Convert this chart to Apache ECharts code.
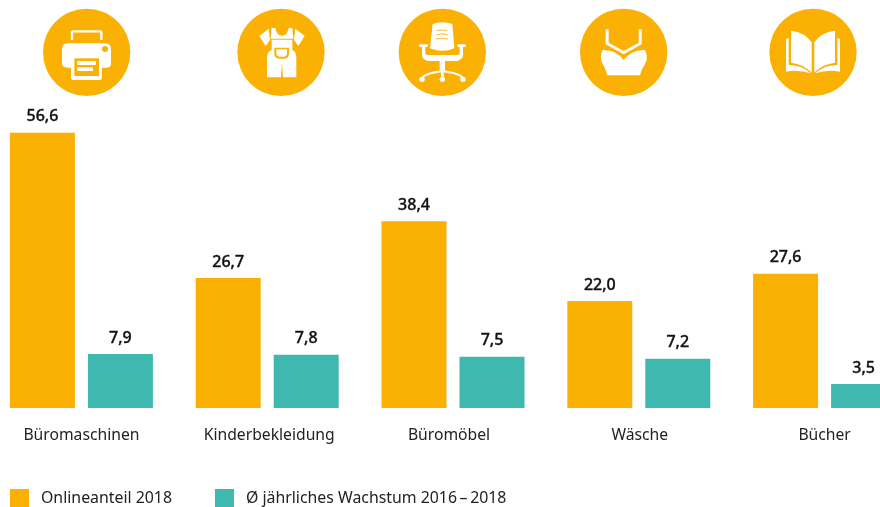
<!DOCTYPE html>
<html><head><meta charset="utf-8">
<style>html,body{margin:0;padding:0;background:#fff}#c{width:880px;height:507px}</style>
<script src="https://cdn.jsdelivr.net/npm/echarts@6/dist/echarts.min.js"></script>
</head><body><div id="c"></div>
<script>
const categories = ['Büromaschinen','Kinderbekleidung','Büromöbel','Wäsche','Bücher'];
const onlineShare = [56.6,26.7,38.4,22.0,27.6];
const growth = [7.9,7.8,7.5,7.2,3.5];
const seriesNames = ['Onlineanteil 2018','Ø jährliches Wachstum 2016\u2009–\u20092018'];
const labelShift = [0,2,-4,1,0];
const ORANGE='#fbb104', TEAL='#3fb8b0', FONT='"Noto Sans", sans-serif';
const W='#fff';
let shapeId=0;
function path(d,fill=W,stroke,lw){
  const name='iconShape'+(shapeId++);
  echarts.graphic.registerShape(name,echarts.graphic.extendPath(d,{}));
  return {type:name,style:{fill:fill,stroke:stroke||null,lineWidth:lw||0}};
}
const circle=(cx,cy)=>({type:'circle',shape:{cx,cy,r:131},style:{fill:ORANGE}});
const dot=(cx,cy,r,fill=W)=>({type:'circle',shape:{cx,cy,r},style:{fill}});
const group=(x,children)=>({type:'group',x:x,y:0,scaleX:1/3,scaleY:1/3,silent:true,children});
const icons=[
 group(0,[circle(260,157),
  path('M216 120V98Q216 94 220 94H300Q304 94 304 98V120','none',W,7),
  path('M204 130H315Q333 130 333 148V190Q333 203 320 203H204Q186 203 186 190V148Q186 130 204 130Z'),
  dot(315,147,9,ORANGE),
  path('M213 170H306V232Q306 240 298 240H221Q213 240 213 232Z'),
  path('M223 175H297V228H223Z',ORANGE),
  path('M232 183H288V195H232Z'),path('M232 202H279V213H232Z')]),
 group(0,[circle(843,157),
  path('M778 108L806 86L810 120L797 138Z'),path('M914 108L886 86L882 120L895 138Z'),
  path('M815 84H826Q830 107 846 107Q862 107 866 84H877L880 116H812Z'),
  path('M815 119H877V150Q888 155 889 170V232H849L846 190L843 232H801V170Q802 155 815 150Z'),
  path('M823 143H867V160Q867 176 852 176H838Q823 176 823 160Z',ORANGE),
  path('M829 148H861V159Q861 170 851 170H839Q829 170 829 159Z')]),
 group(380,[circle(187,157),
  path('M158 72Q187 62 217 72L223 145Q187 160 150 145Z'),
  path('M170 92Q187 87 202 92','none',ORANGE,2.5),path('M169 104Q187 99 203 104','none',ORANGE,2.5),path('M168 117Q187 112 204 117','none',ORANGE,2.5),
  path('M118 133H143V141H136V162L143 165H232L239 162V141H232V133H257V141H249V168Q246 178 232 183H195V212H179V183H143Q128 178 126 168V141H118Z'),
  path('M126 236Q132 220 187 214Q242 220 249 236','none',W,6),
  path('M183 212H191V236H183Z'),
  dot(126,238,8),dot(187,238,8),dot(249,238,8)]),
 group(380,[circle(731,157),
  path('M677 88H686V128L731 153L776 128V88H785V133L731 163L677 133Z'),
  path('M668 150Q706 148 731 180Q756 148 795 150Q806 175 795 192Q783 210 780 226H682Q678 208 668 192Q657 172 668 150Z')]),
 group(740,[circle(219,157),
  path('M153 92Q195 97 215 127V218Q190 192 153 188Z'),
  path('M285 92Q243 97 223 127V218Q248 192 285 188Z'),
  path('M138 118L146 114V195Q185 195 212 220Q175 208 138 215Z'),
  path('M300 118L292 114V195Q253 195 226 220Q263 208 300 215Z')])
];
const fmt=v=>v.value.toFixed(1).replace('.',',');
const labelCfg={show:true,position:'top',distance:8,color:'#111',textBorderColor:'#111',textBorderWidth:0.35,fontFamily:FONT,fontSize:16,fontWeight:500,formatter:fmt};
const chart=echarts.init(document.getElementById('c'),null,{renderer:'canvas'});
chart.setOption({
 animation:false,
 backgroundColor:'#fff',
 graphic:{elements:icons},
 legend:{left:10,top:489,padding:0,itemWidth:19,itemHeight:19,itemGap:43,icon:'rect',selectedMode:false,
  textStyle:{fontFamily:FONT,fontSize:15.85,color:'#222',padding:[1,0,0,7]},
  data:seriesNames},
 grid:{left:-11.5,top:108,width:929,height:300,containLabel:false,outerBoundsMode:'none'},
 xAxis:{type:'category',
  data:categories.map((c,i)=>({value:c,textStyle:{padding:[0,labelShift[i]<0?-2*labelShift[i]:0,0,labelShift[i]>0?2*labelShift[i]:0]}})),
  axisLine:{show:false},axisTick:{show:false},
  axisLabel:{interval:0,margin:20,fontFamily:FONT,fontSize:15.7,color:'#222'}},
 yAxis:[{type:'value',min:0,max:300/4.865,show:false,splitLine:{show:false}},
        {type:'value',min:0,max:300/6.84,show:false,splitLine:{show:false}}],
 series:[
  {name:seriesNames[0],type:'bar',yAxisIndex:0,barWidth:65,barGap:'20%',data:onlineShare,itemStyle:{color:ORANGE},label:labelCfg},
  {name:seriesNames[1],type:'bar',yAxisIndex:1,barWidth:65,barGap:'20%',data:growth,itemStyle:{color:TEAL},label:labelCfg}
 ]
});
</script></body></html>
